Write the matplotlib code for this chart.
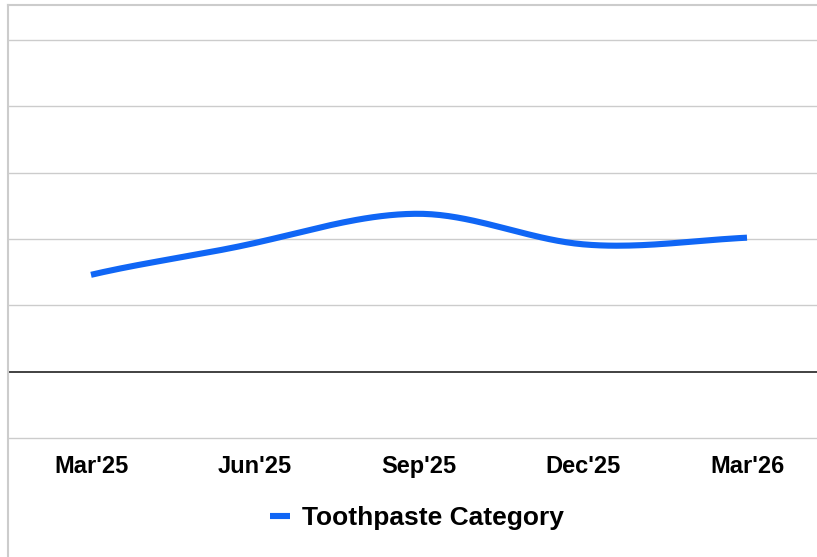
import numpy as np
import matplotlib.pyplot as plt
from matplotlib.lines import Line2D

plt.rcParams['font.family'] = ['Liberation Sans', 'DejaVu Sans']

# donnees
quarters = ["Mar'25", "Jun'25", "Sep'25", "Dec'25", "Mar'26"]
toothpaste = [14.6, 19.4, 23.8, 19.2, 20.2]
series_name = 'Toothpaste Category'

blue = '#1066f5'


def smooth(xs, ys, n=40, k=0.2):
    # courbe de Bezier passant par les points (type cardinal spline)
    xs = np.asarray(xs, float)
    ys = np.asarray(ys, float)
    px, py = [], []
    m = len(xs)
    for i in range(m - 1):
        x0, y0 = xs[i], ys[i]
        x3, y3 = xs[i + 1], ys[i + 1]
        # aux extremites on prolonge par symetrie
        ya = ys[i - 1] if i > 0 else 2 * y0 - y3
        yb = ys[i + 2] if i + 2 < m else 2 * y3 - y0
        y1 = y0 + k * (y3 - ya)
        y2 = y3 - k * (yb - y0)
        x1 = x0 + (x3 - x0) / 3
        x2 = x3 - (x3 - x0) / 3
        t = np.linspace(0, 1, n)
        bx = (1-t)**3*x0 + 3*(1-t)**2*t*x1 + 3*(1-t)*t**2*x2 + t**3*x3
        by = (1-t)**3*y0 + 3*(1-t)**2*t*y1 + 3*(1-t)*t**2*y2 + t**3*y3
        px.extend(bx)
        py.extend(by)
    return np.array(px), np.array(py)


W, H = 817, 557
fig = plt.figure(figsize=(W / 100, H / 100), dpi=100)

# axes : x de 9 a 829 px, y de 40 a 438 px
ax = fig.add_axes([9 / W, (H - 438) / H, 820 / W, 398 / H])
ax.set_xlim(-0.5, 4.5)
ax.set_ylim(-10, 50)

x = np.arange(len(quarters))
cx, cy = smooth(x, toothpaste)
ax.plot(cx, cy, color=blue, lw=4.4, solid_capstyle='butt', zorder=3)

for v in range(-10, 51, 10):
    if v == 0:
        ax.axhline(v, color='#333333', lw=1.3, zorder=2, clip_on=False)
    else:
        ax.axhline(v, color='#cccccc', lw=1.0, zorder=1, clip_on=False)

ax.set_xticks(x)
ax.set_xticklabels(quarters, fontsize=17, fontweight='bold')
ax.tick_params(axis='x', length=0, pad=12.5)
ax.set_yticks([])
for s in ax.spines.values():
    s.set_visible(False)

# cadre gris en haut et a gauche
fig.add_artist(Line2D([8 / W, 1], [(H - 5) / H, (H - 5) / H], color='#cccccc', lw=1.5))
fig.add_artist(Line2D([8 / W, 8 / W], [0, (H - 5) / H], color='#cccccc', lw=1.5))

handle = Line2D([], [], color=blue, lw=4.4, solid_capstyle='butt')
fig.legend([handle], [series_name], loc='center', bbox_to_anchor=(417 / W, (H - 518) / H),
           frameon=False, handlelength=0.75, handletextpad=0.45,
           prop={'size': 19, 'weight': 'bold'})

fig.savefig('out.png', dpi=100)
